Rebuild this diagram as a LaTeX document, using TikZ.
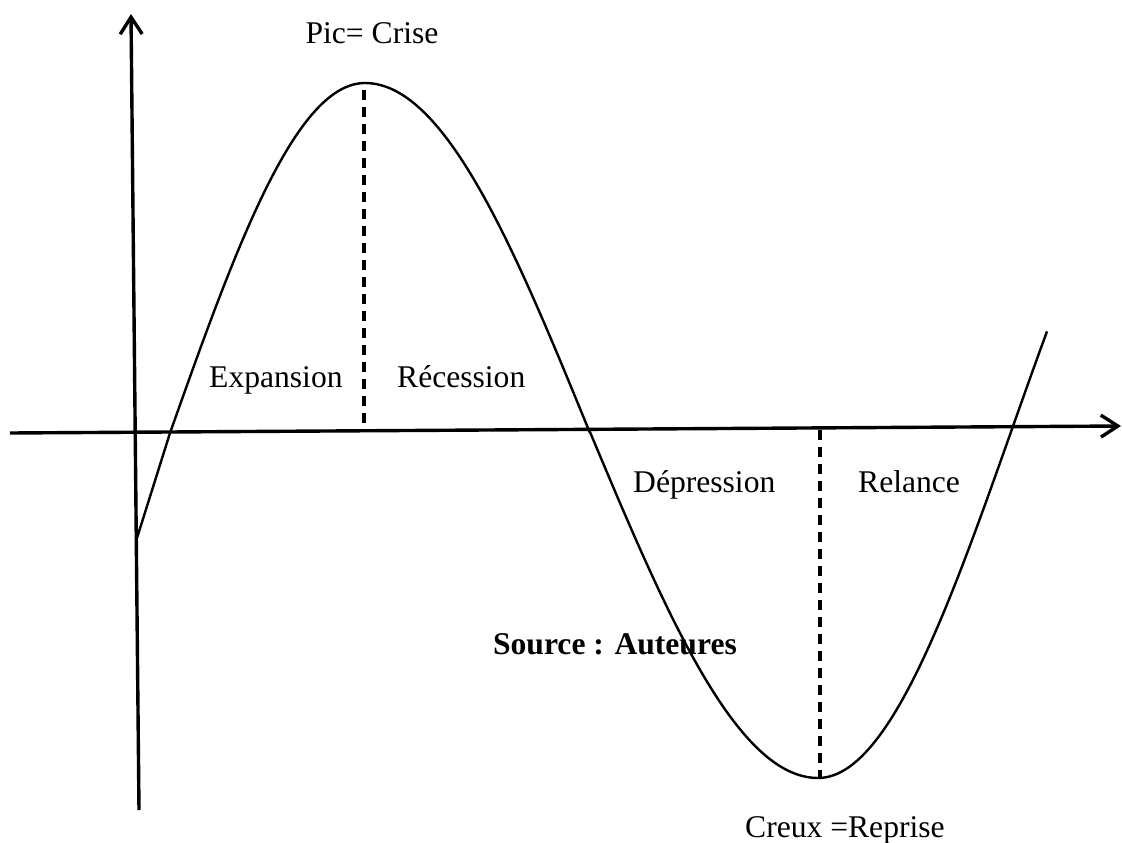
\documentclass[tikz,border=0pt]{standalone}
\usepackage{fontspec}
\setmainfont{Liberation Serif}
\usetikzlibrary{arrows.meta}
\begin{document}
\begin{tikzpicture}[x=1pt,y=-1pt,
  axis/.style={line width=3.4pt,-{Straight Barb[length=17pt,width=22pt,line width=3.4pt]}},
  curve/.style={line width=2.4pt},
  guide/.style={line width=3.2pt,dash pattern=on 10pt off 7pt},
  lbl/.style={anchor=base,inner sep=0pt,font=\fontsize{31.6}{38}\selectfont},
  boldlbl/.style={lbl,font=\fontsize{31.6}{38}\selectfont\bfseries}]
\useasboundingbox (0,0) rectangle (1122,843);
% axes
\coordinate (ybot) at (139,810);
\coordinate (ytop) at (131,14);
\coordinate (xleft) at (10,433);
\coordinate (xright) at (1121,426);
\draw[axis] (ybot) -- (ytop);
\draw[axis] (xleft) -- (xright);
% dashed guides
\coordinate (peak) at (364,90);
\coordinate (peakfoot) at (364,432);
\coordinate (trough) at (820,778);
\coordinate (troughfoot) at (820,430);
\draw[guide] (peak) -- (peakfoot);
\draw[guide] (troughfoot) -- (trough);
% curve
\coordinate (cstart) at (137,538);
\draw[curve,line join=round]
  (cstart) -- plot[domain=170:365,samples=60] (\x,{433-350*sin((\x-170)/195*90)})
  -- plot[domain=365:590,samples=60] (\x,{433-350*cos((\x-365)/225*90)})
  -- plot[domain=590:818,samples=60] (\x,{432+346*sin((\x-590)/228*90)})
  -- plot[domain=818:1047,samples=60] (\x,{429+349*cos((\x-818)/194*90)});
% labels
\node[lbl] (pic) at (372,44) {Pic= Crise};
\node[lbl,anchor=base west] (exp) at (209,387) {Expansion};
\node[lbl,anchor=base west] (rec) at (397,387) {Récession};
\node[lbl,anchor=base west] (dep) at (633,492) {Dépression};
\node[lbl,anchor=base west] (rel) at (858,492) {Relance};
\node[boldlbl,anchor=base east] (src) at (737,654) {Source : Auteures};
\node[lbl,anchor=base west] (creux) at (745,837) {Creux =Reprise};
\end{tikzpicture}
\end{document}
